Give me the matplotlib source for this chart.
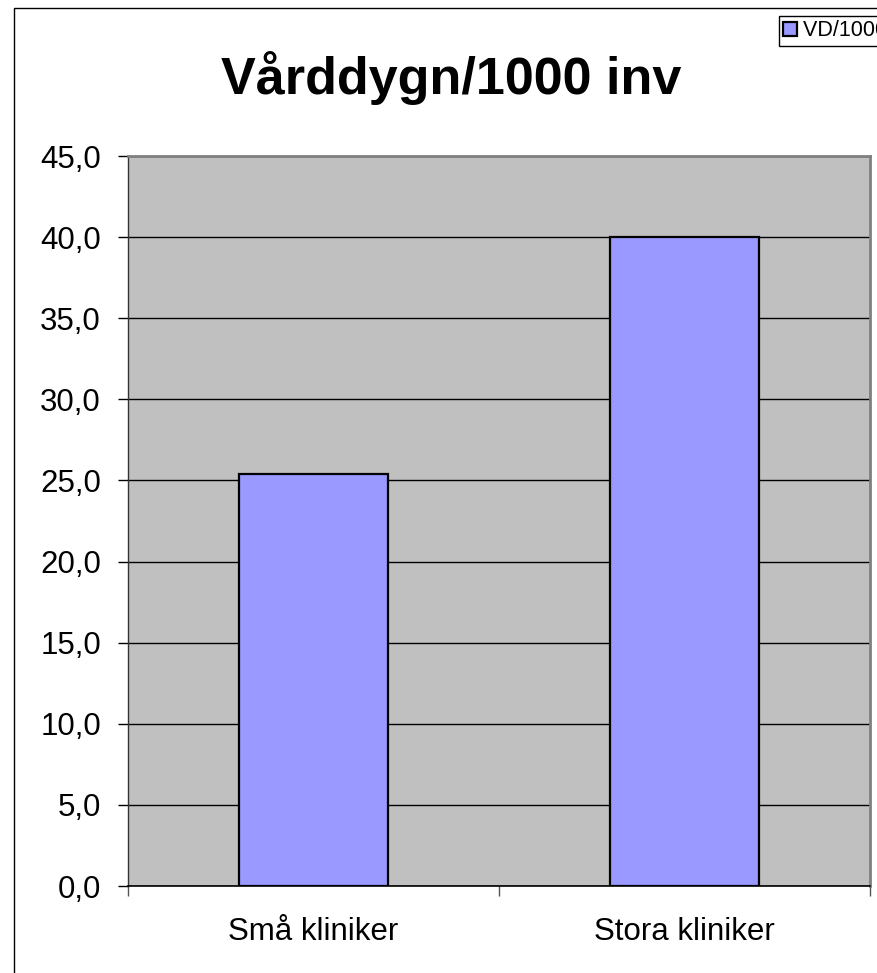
import matplotlib
matplotlib.use("Agg")
import matplotlib.pyplot as plt
from matplotlib.patches import Rectangle
from matplotlib.ticker import FuncFormatter, FixedLocator

plt.rcParams['font.family'] = ['Liberation Sans', 'DejaVu Sans']

categories = ["Små kliniker", "Stora kliniker"]
values = [25.4, 40.0]
series_name = "VD/1000 inv"
title = "Vårddygn/1000 inv"
y_ticks = [0, 5, 10, 15, 20, 25, 30, 35, 40, 45]

W, H = 877, 973
fig = plt.figure(figsize=(W / 100, H / 100), dpi=100)
fig.patch.set_facecolor("white")

# outer chart frame (runs past the right and bottom edges)
fig.patches.append(Rectangle((14 / W, -0.05), 1.2, (H - 8) / H + 0.05,
                             transform=fig.transFigure, fill=False,
                             edgecolor="black", linewidth=1.0))

ax = fig.add_axes([128 / W, 87 / H, 742 / W, 730 / H])
ax.set_facecolor("#C0C0C0")

x = list(range(len(categories)))
bars = ax.bar(x, values, width=0.4, color="#9999FF", edgecolor="black",
              linewidth=1.6, zorder=3, label=series_name)

ax.set_xlim(-0.5, len(categories) - 0.5)
ax.set_ylim(0, 45)
ax.set_yticks(y_ticks)
ax.yaxis.set_major_formatter(FuncFormatter(lambda v, p: f"{v:.1f}".replace(".", ",")))
ax.yaxis.grid(True, color="black", linewidth=1.0, zorder=1)
ax.set_axisbelow(True)

ax.set_xticks(x)
ax.set_xticklabels(categories)
ax.xaxis.set_minor_locator(FixedLocator([-0.5 + i for i in range(len(categories) + 1)]))
ax.tick_params(axis="x", which="major", length=0, pad=22, labelsize=22.5)
ax.tick_params(axis="x", which="minor", length=7.5, width=1.0, color="#555555")
ax.tick_params(axis="y", which="major", length=7.5, width=1.0, pad=12, labelsize=22.5)

for side in ("top", "right"):
    ax.spines[side].set_color("#808080")
    ax.spines[side].set_linewidth(2.0)
ax.spines["left"].set_color("#333333")
ax.spines["left"].set_linewidth(1.0)
ax.spines["bottom"].set_color("black")
ax.spines["bottom"].set_linewidth(1.2)

fig.text(451 / W, 1 - 78 / H, title, ha="center", va="center",
         fontsize=37.5, fontweight="bold")

# legend box in the top-right corner
fig.legend(handles=[bars], labels=[series_name], loc="upper left",
           bbox_to_anchor=(779 / W, 1 - 16 / H), fontsize=15.5,
           frameon=True, fancybox=False, edgecolor="black", framealpha=1,
           borderpad=0.2, handlelength=0.65, handleheight=0.65,
           handletextpad=0.25, borderaxespad=0)

fig.savefig("out.png", dpi=100)
